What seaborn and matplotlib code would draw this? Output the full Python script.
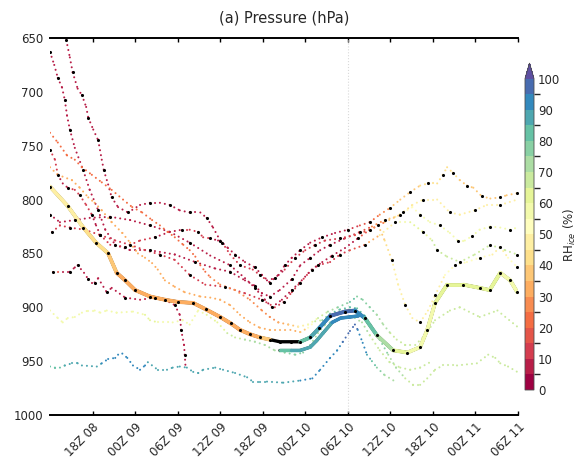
import numpy as np
import pandas as pd
import matplotlib
matplotlib.use("Agg")
import matplotlib as mpl
import matplotlib.pyplot as plt
from matplotlib.collections import LineCollection
import seaborn as sns

# Each trajectory: (hours since 12Z 08, pressure hPa, RH over ice %)
main_traj = [
    (0, 788, 48), (2.5, 806, 46), (4.7, 826, 44), (6.5, 840, 42), (8.2, 850, 38),
    (9.4, 868, 33), (10.6, 875, 31), (12, 884, 30), (14.1, 890, 31), (16.2, 893, 31),
    (18, 895, 32), (20.2, 896, 30), (22, 902, 30), (24, 909, 31), (25.5, 915, 32),
    (26.8, 921, 32), (28.2, 925, 33), (29.6, 928, 34), (31, 930, 40), (32.4, 932, np.nan),
    (34, 932, np.nan), (35.3, 932, 80), (36.7, 928, 87), (38, 919, 91), (39.5, 908, 94),
    (41.6, 904, 96), (43, 903, 98), (44.4, 910, 90), (46.1, 926, 78), (48.4, 940, 66),
    (50.4, 942, 58), (52.2, 937, 56), (53.2, 921, 56), (54.3, 896, 58), (56, 879, 62),
    (58.3, 879, 63), (60.6, 882, 64), (62, 884, 62), (63.5, 868, 60), (64.9, 875, 58),
    (65.9, 886, 57),
]

second_traj = [
    (32.4, 940, 84), (34, 940, 85), (35.3, 940, 86), (36.7, 937, 87), (37.6, 931, 88),
    (38.5, 924, 89), (39.8, 914, 90), (41, 910, 91), (42.3, 909, 93), (43.5, 908, 95),
]

traj_r1 = [
    (2.3, 652, 8), (2.8, 668, 8), (3.2, 682, 9), (3.9, 697, 8), (4.5, 703, 8), (5.1, 714, 7),
    (5.4, 724, 8), (6.1, 735, 8), (6.8, 745, 9), (7.3, 763, 8), (7.6, 773, 8), (8.2, 786, 7),
    (8.7, 798, 8), (9.6, 807, 8), (11, 812, 9), (12.7, 805, 8), (14.1, 803, 8), (15.5, 803, 9),
    (16.9, 805, 8), (18.3, 810, 8), (19.7, 812, 7), (21.2, 812, 8), (22.1, 817, 8), (23, 826, 8),
    (24, 838, 9), (25.1, 845, 8), (26.1, 851, 8), (27.5, 858, 8), (28.9, 863, 8), (29.9, 870, 7),
    (31, 877, 8), (32.2, 870, 8), (33.1, 861, 8), (34.1, 854, 9), (35.3, 847, 8), (36.7, 840, 8),
    (38.4, 835, 8), (40.2, 831, 9), (42, 828, 10), (43.7, 824, 13), (45.1, 821, 18),
    (46.5, 814, 26), (47.9, 808, 33), (49.4, 800, 37), (50.8, 793, 39), (52.2, 787, 40),
    (53.3, 785, 41), (54.6, 785, 40), (55.4, 777, 42), (56, 770, 44), (56.8, 775, 42),
    (57.8, 782, 40), (58.8, 787, 38), (59.7, 789, 37), (60.9, 797, 36), (62.1, 799, 37),
    (63.5, 798, 38), (64.4, 796, 37), (65.9, 794, 36),
]

traj_r2 = [
    (0, 663, 6), (0.6, 675, 6), (1.1, 687, 7), (1.7, 696, 6), (2.1, 708, 6), (2.4, 722, 7),
    (2.8, 735, 6), (3.5, 752, 6), (4.7, 773, 7), (5.6, 791, 6), (6.8, 810, 6), (7.8, 828, 7),
    (9.2, 842, 6), (11.3, 847, 6), (14.1, 847, 7), (17.6, 851, 6), (20.5, 858, 6), (23.3, 864, 7),
    (25.4, 867, 6), (27.5, 875, 6), (28.9, 880, 7), (29.9, 887, 6), (31, 890, 6), (32.4, 884, 7),
    (34.1, 874, 6), (35.3, 861, 6), (36.7, 854, 7), (38.1, 847, 6), (39.5, 842, 7), (41.6, 836, 8),
    (43.7, 830, 12), (45.4, 825, 20), (47.2, 819, 30), (48.7, 816, 42), (49.8, 812, 50),
    (51.1, 807, 54), (52.2, 814, 55), (53.6, 821, 56), (55, 824, 56), (56.4, 831, 57),
    (57.5, 838, 56), (58.5, 838, 57), (59.5, 834, 57), (60.6, 828, 56), (62.1, 825, 57),
    (63.5, 826, 58), (64.9, 828, 57), (65.9, 826, 56),
]

traj_r3 = [
    (0, 754, 10), (0.7, 763, 11), (1.1, 777, 10), (1.8, 785, 9), (2.5, 789, 10), (3.5, 791, 10),
    (4.2, 796, 11), (5.1, 805, 10), (5.9, 814, 10), (6.5, 824, 9), (7.1, 833, 10), (8.5, 842, 10),
    (10.6, 844, 11), (12.7, 838, 10), (14.8, 835, 10), (16.9, 830, 9), (18.6, 828, 10),
    (19.7, 828, 10), (20.9, 830, 11), (21.6, 835, 10), (22.6, 836, 10), (23.7, 838, 9),
    (24.3, 840, 10), (25.4, 851, 10), (26.8, 861, 11), (28.6, 865, 10), (29.6, 870, 10),
    (30.6, 875, 10), (31.7, 873, 9), (33.1, 865, 10), (34.6, 854, 10), (36, 847, 11),
    (37.4, 842, 10), (38.8, 838, 10), (40.9, 836, 11), (43, 833, 12), (45.1, 828, 18),
    (47.2, 821, 30), (49.4, 814, 40), (51.1, 805, 45), (52.6, 800, 47), (54.6, 800, 48),
    (56.4, 812, 48), (57.8, 814, 49), (59.9, 810, 48), (61.6, 805, 47), (63.5, 805, 48),
    (65.9, 800, 47),
]

traj_r4 = [
    (0.3, 830, 12), (1.4, 824, 12), (2.8, 826, 13), (4.9, 828, 12), (7.1, 833, 12), (9.2, 838, 11),
    (11.3, 842, 12), (13.4, 847, 12), (15.5, 851, 13), (17.6, 856, 12), (19.7, 870, 12),
    (21.9, 879, 11), (24.7, 881, 12), (27.5, 887, 12), (29.9, 893, 12), (31.7, 900, 12),
    (33, 895, 11), (34.1, 886, 12), (35.3, 877, 12), (36.5, 868, 12), (37.8, 861, 13),
    (39.5, 858, 12), (40.9, 851, 12), (42.3, 847, 14), (44.4, 842, 22), (46.5, 833, 38),
    (48.7, 821, 52), (50.8, 821, 60), (52.6, 830, 64), (53.9, 838, 65), (54.6, 847, 66),
    (56, 853, 66), (57.8, 858, 67), (59.9, 851, 66), (62.1, 842, 65), (64.2, 847, 66),
    (65.9, 851, 66),
]

traj_r5 = [
    (0.4, 867, 22), (1.8, 867, 10), (2.8, 867, 9), (3.5, 863, 9), (3.9, 861, 8), (4.8, 868, 9),
    (5.4, 874, 9), (5.9, 877, 8), (6.3, 877, 9), (6.8, 873, 9), (8, 886, 8), (8.7, 882, 9),
    (10.6, 891, 8), (12.7, 893, 9), (14.8, 891, 8), (16.2, 893, 9), (17.6, 898, 8),
    (18.3, 907, 9), (18.5, 921, 8), (18.9, 935, 9), (19, 944, 8), (19.1, 954, 9),
]

traj_r6 = [
    (0, 814, 5), (1.4, 821, 5), (3.5, 819, 6), (5.6, 817, 5), (8.5, 816, 5), (11.3, 819, 6),
    (14.1, 824, 5), (16.9, 830, 5), (19.7, 840, 6), (22.6, 852, 5), (25.4, 861, 5),
    (27.5, 873, 6), (28.9, 882, 5), (30.3, 893, 5), (31.3, 900, 6), (32.7, 893, 5),
    (34.1, 884, 5), (35.5, 875, 6), (36.9, 865, 5), (38.4, 858, 5), (39.8, 852, 6),
    (41.6, 845, 6), (43.4, 836, 10), (45.1, 828, 20), (46.3, 824, 32), (47.2, 838, 42),
    (48.2, 856, 46), (49.1, 879, 48), (50.1, 898, 48), (51.1, 910, 47), (52.2, 914, 46),
    (53.3, 903, 47), (54.3, 889, 48), (55.7, 870, 50), (57.1, 861, 52), (58.8, 858, 53),
    (60.6, 854, 52), (62.4, 851, 50), (63.5, 844, 48), (64.6, 854, 50), (65.9, 863, 52),
]

traj_o1 = [
    (0, 738, 22), (1.1, 747, 22), (2.4, 759, 23), (3.5, 763, 22), (4.5, 770, 23), (5.9, 777, 22),
    (7.3, 784, 23), (8.7, 791, 22), (10.3, 800, 22), (11.6, 807, 23), (13, 812, 22),
    (14.4, 819, 23), (15.5, 824, 22), (16.6, 830, 23), (17.6, 835, 22), (18.8, 842, 23),
    (19.7, 847, 22), (20.5, 853, 23), (21.2, 861, 24), (21.9, 867, 24), (22.6, 872, 25),
    (24, 879, 25), (26.1, 884, 26), (28.2, 893, 26), (29.9, 903, 27), (31, 909, 27),
    (32.2, 914, 28), (33.6, 916, 32), (35, 918, 42), (36.4, 916, 52), (37.8, 910, 62),
    (39.2, 904, 70), (40.6, 900, 76), (42.3, 895, 80), (43.3, 890, 80), (44.1, 893, 78),
    (45.1, 900, 76), (46.1, 907, 74), (47, 916, 72), (48, 924, 70), (48.9, 930, 69),
    (50.1, 935, 68), (51.5, 935, 68), (52.9, 926, 68), (54.3, 912, 67), (56.4, 903, 67),
    (57.8, 900, 68), (60.6, 909, 68), (63.1, 903, 67), (65.9, 918, 68),
]

traj_o2 = [
    (0, 770, 30), (1.1, 777, 30), (3.1, 782, 31), (4.2, 789, 30), (5.4, 798, 31), (6.3, 803, 30),
    (7.3, 810, 31), (8.7, 821, 30), (10.2, 831, 31), (11.3, 840, 30), (12.4, 850, 31),
    (13.4, 854, 30), (14.4, 859, 31), (15.2, 865, 30), (16.2, 875, 31), (17.6, 881, 30),
    (19, 886, 31), (21.2, 890, 30), (22.6, 891, 31), (24, 893, 30), (25.4, 898, 31),
    (26.8, 907, 30), (28.2, 914, 31), (29.6, 919, 30), (31, 921, 31), (32.4, 921, 30),
    (33.9, 921, 31), (35.3, 923, 34), (36.4, 919, 45), (37.4, 913, 60), (38.4, 912, 72),
    (39.5, 906, 78), (40.9, 902, 82), (42.3, 900, 84), (43.3, 901, 85), (44.4, 908, 82),
    (45.4, 918, 80), (46.5, 930, 78), (47.7, 944, 75), (48.8, 956, 72), (50.1, 966, 70),
    (51.2, 972, 68), (52.2, 972, 68), (53.2, 966, 68), (54.3, 958, 68), (55.4, 954, 69),
    (57.4, 954, 68), (58.8, 953, 68), (60.2, 952, 67), (61.8, 944, 68), (62.8, 947, 68),
    (63.5, 952, 68), (64.6, 955, 67), (65.9, 960, 68),
]

traj_g1 = [
    (0, 903, 58), (1.1, 910, 57), (1.8, 914, 56), (2.5, 910, 57), (3.5, 909, 58), (4.5, 905, 58),
    (5.4, 903, 58), (6.3, 903, 57), (7.1, 905, 58), (8, 903, 58), (9.4, 905, 58), (11.7, 904, 59),
    (13.4, 907, 60), (14.1, 912, 60), (15.2, 914, 60), (17.3, 914, 59), (18.7, 912, 58),
    (19.7, 916, 60), (20.9, 903, 58), (22.1, 907, 60), (23.6, 914, 62), (25, 924, 66),
    (26.1, 928, 68), (27.5, 930, 70), (28.9, 932, 70), (30.3, 935, 72), (31.7, 940, 74),
    (33.1, 942, 75), (34.6, 944, 76), (35.7, 942, 76), (36.7, 935, 75), (37.8, 924, 74),
    (38.8, 916, 72), (40.2, 912, 72), (41.6, 909, 72), (43, 910, 73), (44, 914, 72),
    (45.1, 926, 70), (46.5, 940, 68), (47.9, 951, 68), (49.4, 956, 68), (50.8, 958, 68),
    (52.2, 956, 68), (53.6, 951, 68),
]

traj_b1 = [
    (0, 955, 84), (0.7, 956, 84), (1.4, 956, 84), (2.1, 954, 85), (3.1, 952, 86), (3.9, 952, 86),
    (4.5, 954, 86), (6.6, 955, 88), (7.3, 952, 89), (8.2, 948, 91), (9.2, 947, 91), (9.6, 944, 92),
    (10.2, 943, 92), (10.9, 947, 92), (11.7, 954, 91), (12.7, 958, 91), (13.4, 954, 90),
    (13.8, 951, 90), (15.2, 958, 89), (16.5, 958, 89), (17.3, 956, 88), (18.3, 955, 88),
    (19.3, 956, 88), (20.2, 960, 88), (20.9, 961, 88), (21.6, 958, 88), (23.3, 956, 88),
    (24.4, 958, 87), (26.1, 961, 86), (27.8, 965, 85), (28.6, 969, 85), (29.6, 969, 85),
    (30.6, 969, 86), (32.9, 970, 88), (35.3, 968, 90), (37, 966, 91), (38.1, 958, 92),
    (39.5, 947, 93), (40.5, 940, 94), (41.3, 932, 95), (42.3, 922, 96), (43, 916, 96),
    (43.4, 921, 95), (44.1, 933, 92), (44.7, 944, 88), (45.4, 950, 84), (46.1, 956, 80),
    (47.2, 963, 75), (48.7, 969, 70),
]

thin_trajs = [traj_r1, traj_r2, traj_r3, traj_r4, traj_r5, traj_r6,
              traj_o1, traj_o2, traj_g1, traj_b1]
dotted_every = [2, 2, 2, 2, 2, 2, 0, 0, 0, 0]

tick_hours = [6, 12, 18, 24, 30, 36, 42, 48, 54, 60, 66]
tick_labels = ["18Z 08", "00Z 09", "06Z 09", "12Z 09", "18Z 09", "00Z 10",
               "06Z 10", "12Z 10", "18Z 10", "00Z 11", "06Z 11"]
p_ticks = [650, 700, 750, 800, 850, 900, 950, 1000]
rh_levels = np.arange(0, 101, 5)
rh_ticks = np.arange(0, 101, 10)

sns.set_theme(style="white")
plt.rcParams["font.family"] = ["DejaVu Sans"]

cmap = mpl.colormaps["Spectral"]
norm = mpl.colors.BoundaryNorm(rh_levels, cmap.N, extend="max")

fig = plt.figure(figsize=(5.77, 4.59), dpi=100)
ax = fig.add_axes([50 / 577, 1 - 415 / 459, 468 / 577, 377 / 459])
cax = fig.add_axes([525 / 577, 1 - 390 / 459, 9 / 577, 327 / 459])


def colored_segments(traj):
    arr = np.asarray(traj, dtype=float)
    pts = arr[:, :2]
    segs = np.stack([pts[:-1], pts[1:]], axis=1)
    rh = (arr[:-1, 2] + arr[1:, 2]) / 2
    ok = ~np.isnan(rh)
    colors = cmap(norm(np.where(ok, rh, 0)))
    return segs[ok], colors[ok]


# thin trajectories drawn as coloured dotted paths
for traj in thin_trajs:
    segs, cols = colored_segments(traj)
    lc = LineCollection(segs, colors=cols, linewidths=1.5,
                        linestyles=[(0, (0.01, 2.4))], capstyle="round", zorder=2)
    ax.add_collection(lc)

# thick trajectories (black where RH is missing)
for traj, lw in [(main_traj, 2.8), (second_traj, 2.5)]:
    arr = np.asarray(traj, dtype=float)
    ax.plot(arr[:, 0], arr[:, 1], color="black", lw=lw - 0.4, zorder=3,
            solid_capstyle="round")
    segs, cols = colored_segments(traj)
    lc = LineCollection(segs, colors=cols, linewidths=lw, capstyle="round",
                        joinstyle="round", zorder=3.5)
    ax.add_collection(lc)

# black hourly markers
rows = []
for traj, step in zip(thin_trajs, dotted_every):
    if step:
        rows += [dict(hour=h, p=p) for h, p, _ in traj[::step]]
rows += [dict(hour=h, p=p) for h, p, _ in main_traj]
marks = pd.DataFrame(rows)
sns.scatterplot(data=marks, x="hour", y="p", color="black", s=5, linewidth=0,
                ax=ax, legend=False, zorder=4)

ax.axvline(42, color="#d9d9d9", ls=":", lw=0.8, zorder=1)

ax.set_xlim(0, 66)
ax.set_ylim(1000, 650)
ax.set_xticks(tick_hours)
ax.set_xticklabels(tick_labels, rotation=45, ha="right", rotation_mode="anchor")
ax.set_yticks(p_ticks)
ax.set_yticklabels([str(v) for v in p_ticks])
ax.set_xlabel("")
ax.set_ylabel("")
ax.tick_params(axis="x", direction="in", length=3, width=1, top=True, bottom=True,
               labelsize=8.5, pad=4, color="black")
ax.tick_params(axis="y", length=0, labelsize=8.5, pad=5)
for side in ["left", "right"]:
    ax.spines[side].set_visible(False)
for side in ["top", "bottom"]:
    ax.spines[side].set_color("black")
    ax.spines[side].set_linewidth(1.4)
ax.set_title("(a) Pressure (hPa)", fontsize=10.5, pad=11)

cb = fig.colorbar(mpl.cm.ScalarMappable(norm=norm, cmap=cmap), cax=cax,
                  extend="max", ticks=rh_ticks)
cb.ax.tick_params(length=0, labelsize=8.5, pad=3)
cb.outline.set_linewidth(0.6)
cb.outline.set_edgecolor("0.3")
cb.set_label("RH$_{ice}$ (%)", fontsize=8.5, labelpad=1)

fig.savefig("out.png", dpi=100, facecolor="white")
